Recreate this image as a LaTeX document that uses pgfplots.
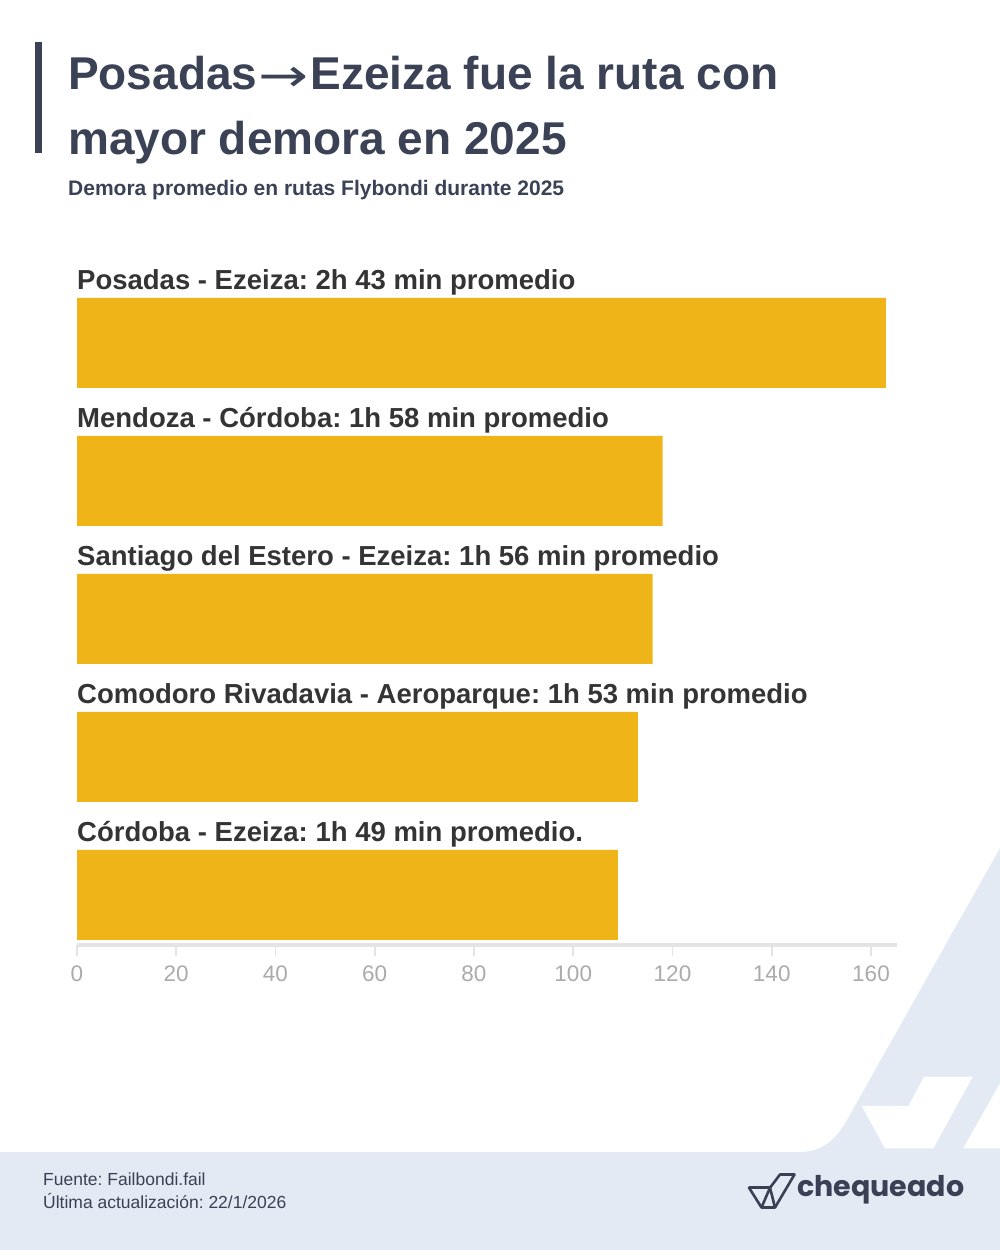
\documentclass[border=0pt]{standalone}
\usepackage{graphicx}
\usepackage{pgfplots}
\pgfplotsset{compat=1.18}
\usepackage{fontspec}
\setmainfont{Liberation Sans}
\newfontfamily\logofont{Poppins}
\newfontfamily\dejavu{DejaVu Sans}
\definecolor{titlecol}{HTML}{3B4256}
\definecolor{barcol}{HTML}{EFB518}
\definecolor{labelcol}{HTML}{343434}
\definecolor{tickcol}{HTML}{ABABAB}
\definecolor{axiscol}{HTML}{E4E4E4}
\definecolor{bgblue}{HTML}{E4EAF4}
\definecolor{footcol}{HTML}{3A4154}
\frenchspacing
\begin{document}
\begin{tikzpicture}[x=1pt,y=1pt]
\fill[white] (0,0) rectangle (1000,1250);
% decorative background
\fill[bgblue] (1000,402) -- (847,130) .. controls (838,114) and (825,98) .. (800,98) -- (1000,98) -- cycle;
\fill[bgblue] (0,0) rectangle (1000,98);
\fill[white] (861.7,144) -- (908.3,144) -- (924,173.3) -- (972.7,173.3) -- (933.3,101.7) -- (885,101.7) -- cycle;
\fill[white] (963.3,101.7) -- (1000,101.7) -- (1000,166.7) -- cycle;
% title block
\fill[titlecol] (34.5,1097) rectangle (42,1208);
\node[anchor=base west, inner sep=0, text=titlecol, font=\fontsize{46}{50}\selectfont\bfseries] at (68,1160) {Posadas{\dejavu\mdseries\kern1.5pt\raisebox{-1.5pt}{\scalebox{1.3}[1]{→}}\kern1.5pt}Ezeiza fue la ruta con};
\node[anchor=base west, inner sep=0, text=titlecol, font=\fontsize{46}{50}\selectfont\bfseries] at (68,1095) {mayor demora en 2025};
\node[anchor=base west, inner sep=0, text=titlecol, font=\fontsize{21}{24}\selectfont\bfseries] at (68,1054) {Demora promedio en rutas Flybondi durante 2025};
% footer
\node[anchor=base west, inner sep=0, text=footcol, font=\fontsize{17.5}{20}\selectfont] at (43,64) {Fuente: Failbondi.fail};
\node[anchor=base west, inner sep=0, text=footcol, font=\fontsize{17.5}{20}\selectfont] at (43,41) {Última actualización: 22/1/2026};
% logo
\draw[footcol, line width=2.6pt, line join=round] (749,62.3) -- (761.5,42.5) -- (775,42.5) -- (794.5,75.5) -- (780,75.5) -- (770,62.3) -- cycle;
\draw[footcol, line width=2.6pt, line join=round] (749,62.3) -- (770,62.3);
\draw[footcol, line width=2.6pt, line join=round] (761.5,42.5) -- (770,62.3) -- (775,42.5);
\node[anchor=base west, inner sep=0, text=footcol, font=\fontsize{28.5}{30}\logofont\bfseries] at (797,53) {chequeado};
% chart
\begin{axis}[
  at={(77pt,305pt)}, anchor=south west,
  scale only axis, width=820pt, height=671pt,
  xmin=0, xmax=165.24, ymin=-0.3623, ymax=4.5,
  xbar, bar width=90pt,
  axis x line*=bottom, axis y line=none,
  axis line style={draw=axiscol, line width=3.5pt},
  xtick={0,20,...,160}, ytick=\empty,
  tick align=outside, major tick length=11pt,
  xtick style={draw=axiscol, line width=1.6pt},
  xticklabel style={font=\fontsize{22.5}{22}\selectfont, text=tickcol, yshift=-6pt},
  /pgf/number format/assume math mode=true,
  clip=false,
]
\addplot[fill=barcol, draw=none] coordinates {(163,4) (118,3) (116,2) (113,1) (109,0)};
\node[anchor=base west, inner sep=0, text=labelcol, font=\fontsize{27.5}{28}\selectfont\bfseries, yshift=53pt] at (axis cs:0,4) {Posadas - Ezeiza: 2h 43 min promedio};
\node[anchor=base west, inner sep=0, text=labelcol, font=\fontsize{27.5}{28}\selectfont\bfseries, yshift=53pt] at (axis cs:0,3) {Mendoza - Córdoba: 1h 58 min promedio};
\node[anchor=base west, inner sep=0, text=labelcol, font=\fontsize{27.5}{28}\selectfont\bfseries, yshift=53pt] at (axis cs:0,2) {Santiago del Estero - Ezeiza: 1h 56 min promedio};
\node[anchor=base west, inner sep=0, text=labelcol, font=\fontsize{27.5}{28}\selectfont\bfseries, yshift=53pt] at (axis cs:0,1) {Comodoro Rivadavia - Aeroparque: 1h 53 min promedio};
\node[anchor=base west, inner sep=0, text=labelcol, font=\fontsize{27.5}{28}\selectfont\bfseries, yshift=53pt] at (axis cs:0,0) {Córdoba - Ezeiza: 1h 49 min promedio.};
\end{axis}
\end{tikzpicture}
\end{document}
